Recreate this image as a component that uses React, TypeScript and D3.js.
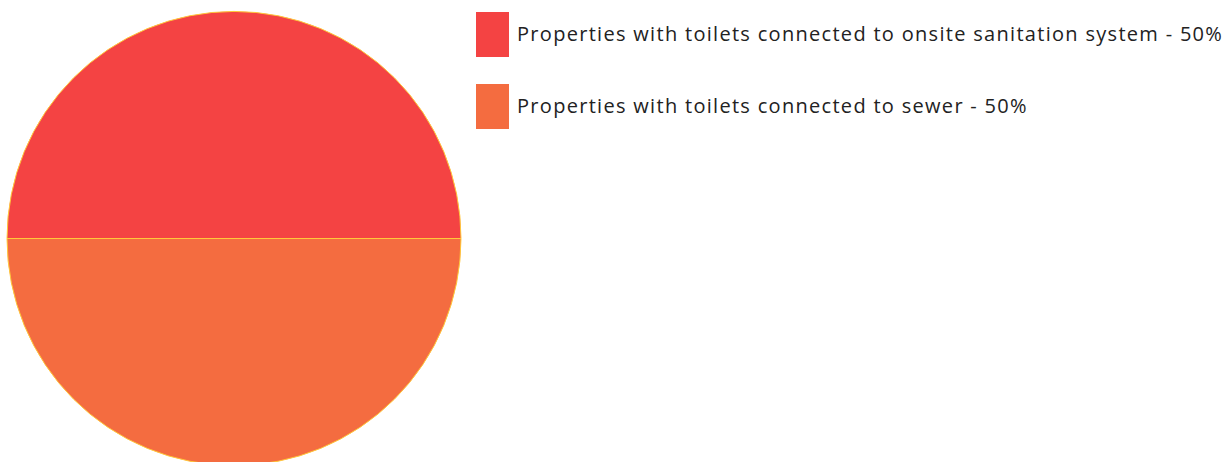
import { useEffect, useRef } from 'react'
import * as d3 from 'd3'

const categories = [
  'Properties with toilets connected to onsite sanitation system',
  'Properties with toilets connected to sewer',
]
const shares = [50, 50]
const colors = ['#F44343', '#F46C40']

export default function App() {
  const svgRef = useRef<SVGSVGElement>(null)

  useEffect(() => {
    const svgEl = svgRef.current
    if (!svgEl) return

    const width = 1230
    const height = 462
    const cx = 234
    const cy = 238.5
    const radius = 227

    const svg = d3.select(svgEl)
    svg.attr('width', width).attr('height', height).selectAll('*').remove()

    const data = categories.map((name, i) => ({ name, value: shares[i] }))

    const pie = d3.pie<{ name: string; value: number }>()
      .value(d => d.value)
      .sort(null)
      .startAngle(-Math.PI / 2)
      .endAngle(Math.PI * 1.5)

    const arc = d3.arc<d3.PieArcDatum<{ name: string; value: number }>>()
      .innerRadius(0)
      .outerRadius(radius)

    const color = d3.scaleOrdinal<string>().domain(categories).range(colors)

    // Slices
    svg.append('g')
      .attr('transform', `translate(${cx},${cy})`)
      .selectAll('path')
      .data(pie(data))
      .enter()
      .append('path')
      .attr('d', arc)
      .style('fill', d => color(d.data.name))
      .style('stroke', '#FFC83A')
      .style('stroke-width', '1')

    // Legend
    const legend = svg.append('g').attr('transform', 'translate(476,12)')
    const row = legend.selectAll('g')
      .data(data)
      .enter()
      .append('g')
      .attr('transform', (_, i) => `translate(0,${i * 72})`)

    row.append('rect')
      .attr('width', 33)
      .attr('height', 45)
      .style('fill', d => color(d.name))

    row.append('text')
      .attr('x', 41)
      .attr('y', 29)
      .style('fill', '#222')
      .style('font-size', '20px')
      .style('letter-spacing', '1.3px')
      .style('font-family', '"Open Sans", sans-serif')
      .text(d => `${d.name} - ${d.value}%`)
  }, [])

  return (
    <div style={{ position: 'absolute', left: 0, top: 0 }}>
      <svg ref={svgRef} style={{ display: 'block' }} />
    </div>
  )
}
